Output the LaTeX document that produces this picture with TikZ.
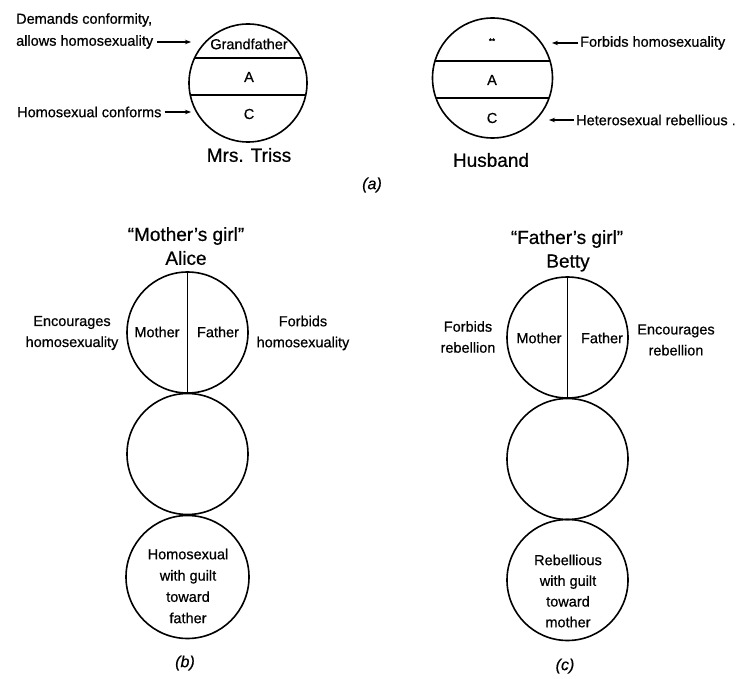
\documentclass[tikz,border=0pt]{standalone}
\usepackage{fontspec}
\setmainfont{Liberation Sans}[FakeBold=0.6]
\usetikzlibrary{arrows.meta}
\tikzset{
  lab/.style={font=\fontsize{14.5}{21}\selectfont, inner sep=0pt, align=center},
  ttl/.style={font=\fontsize{19}{22}\selectfont, inner sep=0pt},
  sublabel/.style={font=\fontsize{16}{18}\selectfont\itshape, inner sep=0pt},
  ring/.style={circle, draw, line width=1.6pt, inner sep=0pt, minimum size=#1},
  ring/.default=120pt,
  chord/.style={line width=1.4pt},
  arr/.style={-{Stealth[length=6pt,width=4.5pt]}, line width=1.2pt}
}
\begin{document}
\begin{tikzpicture}[x=1pt,y=-1pt]
\useasboundingbox[fill=white] (0,0) rectangle (747,679);

% ---------- (a) Mrs. Triss ----------
\node[ring=118pt] (triss) at (248,83) {};
\begin{scope}
  \clip (248,83) circle[radius=59];
  \draw[chord] (180,58) -- (320,58);
  \draw[chord] (180,95) -- (320,95);
\end{scope}
\node[lab] (tg) at (249,44) {Grandfather};
\node[lab] (ta) at (249,77) {A};
\node[lab] (tc) at (249,114) {C};
\node[ttl] (tname) at (249,155) {Mrs. Triss};

\node[lab, anchor=west] (dem1) at (16,20) {Demands conformity,};
\node[lab, anchor=west] (dem2) at (16,42) {allows homosexuality};
\coordinate (dtip) at (191,42);
\draw[arr] ([xshift=4pt]dem2.east) -- (dtip);
\node[lab, anchor=west] (hc) at (17,112) {Homosexual conforms};
\coordinate (htip) at (191,112);
\draw[arr] ([xshift=3pt]hc.east) -- (htip);

% ---------- (a) Husband ----------
\node[ring] (hus) at (492.5,78) {};
\begin{scope}
  \clip (492.5,78) circle[radius=60];
  \draw[chord] (420,61) -- (570,61);
  \draw[chord] (420,98) -- (570,98);
\end{scope}
\node[font=\fontsize{8}{8}\selectfont, inner sep=0pt] (hs) at (492,41) {**};
\node[lab] (ha) at (492,80) {A};
\node[lab] (hcc) at (492,118) {C};
\node[ttl] (hname) at (491,160) {Husband};

\node[lab, anchor=west] (fh) at (580,43) {Forbids homosexuality};
\coordinate (ftip) at (552,43);
\draw[arr] ([xshift=-2pt]fh.west) -- (ftip);
\node[lab, anchor=west] (hr) at (576,120) {Heterosexual rebellious .};
\coordinate (rtip) at (549,120);
\draw[arr] ([xshift=-2pt]hr.west) -- (rtip);

\node[sublabel] (capa) at (372,185) {(a)};

% ---------- (b) Alice ----------
\node[ttl] (bt1) at (186,236) {``Mother's girl''};
\node[ttl] (bt2) at (186,258) {Alice};
\node[ring=121pt] (b1) at (187.5,332.5) {};
\node[ring=121pt] (b2) at (187.5,454) {};
\node[ring=123pt] (b3) at (187.5,577) {};
\draw[chord] (b1.north) -- (b1.south);
\node[lab] (bm) at (157,332) {Mother};
\node[lab] (bf) at (218,332) {Father};
\node[lab] (bl) at (72,333) {Encourages\\homosexuality};
\node[lab] (br) at (303,333) {Forbids\\homosexuality};
\node[lab, font=\fontsize{14.5}{21.3}\selectfont] (bres) at (188,586) {Homosexual\\with guilt\\toward\\father};
\node[sublabel] (capb) at (185,663) {(b)};

% ---------- (c) Betty ----------
\node[ttl] (ct1) at (567,239) {``Father's girl''};
\node[ttl] (ct2) at (568,263) {Betty};
\node[ring=121pt] (c1) at (567.5,337.5) {};
\node[ring=121pt] (c2) at (567.5,459) {};
\node[ring=121pt] (c3) at (567.5,580) {};
\draw[chord] (c1.north) -- (c1.south);
\node[lab] (cm) at (539,338) {Mother};
\node[lab] (cf) at (602,338) {Father};
\node[lab] (cl) at (468,337) {Forbids\\rebellion};
\node[lab] (cr) at (676,340) {Encourages\\rebellion};
\node[lab, font=\fontsize{14.5}{20.7}\selectfont] (cres) at (568,591) {Rebellious\\with guilt\\toward\\mother};
\node[sublabel] (capc) at (565,666) {(c)};
\end{tikzpicture}
\end{document}
